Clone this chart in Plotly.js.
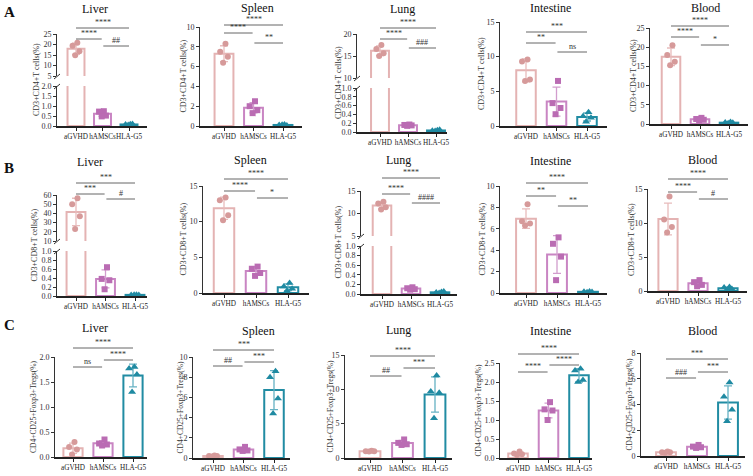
<!DOCTYPE html>
<html>
<head>
<meta charset="utf-8">
<script src="https://cdn.plot.ly/plotly-3.0.1.min.js"></script>
<style>
html, body { margin: 0; padding: 0; background: #fff; }
#chart { width: 753px; height: 476px; }
</style>
</head>
<body>
<div id="chart"></div>
<script>
var groups = ["aGVHD", "hAMSCs", "HLA-G5"];

// row A: CD3+CD4+ T cells (%), one list per group (aGVHD, hAMSCs, HLA-G5)
var liverCD4 = [[20.8, 19.4, 16.8, 14.9], [0.74, 0.72, 0.52, 0.48], [0.09, 0.07, 0.10, 0.05]];
var spleenCD4 = [[8.3, 7.5, 7.0, 6.4], [2.5, 2.0, 1.6, 1.3], [0.15, 0.10, 0.05, 0.12]];
var lungCD4 = [[17.5, 16.6, 15.6, 15.0], [0.17, 0.16, 0.15, 0.14], [0.04, 0.03, 0.05, 0.02]];
var intestineCD4 = [[9.6, 9.3, 6.7, 6.5], [6.5, 3.3, 2.6, 1.7], [2.0, 1.4, 1.2, 0.6]];
var bloodCD4 = [[20.5, 18.0, 16.2, 15.3], [1.6, 1.3, 1.1, 0.9], [0.5, 0.4, 0.3, 0.2]];

// row B: CD3+CD8+ T cells (%)
var liverCD8 = [[56.5, 50, 37, 23], [0.64, 0.38, 0.35, 0.15], [0.03, 0.02, 0.02, 0.03]];
var spleenCD8 = [[13.4, 13.0, 10.9, 10.2], [3.7, 3.4, 2.8, 2.4], [1.4, 0.9, 0.6, 0.3]];
var lungCD8 = [[12.6, 12.2, 11.4, 10.9], [0.14, 0.12, 0.10, 0.09], [0.04, 0.03, 0.05, 0.02]];
var intestineCD8 = [[8.3, 6.7, 6.5, 6.3], [5.2, 4.6, 3.4, 1.2], [0.15, 0.12, 0.10, 0.08]];
var bloodCD8 = [[13.9, 10.5, 9.4, 8.6], [1.6, 1.3, 0.9, 0.7], [0.6, 0.5, 0.3, 0.2]];

// row C: CD4+CD25+Foxp3+ Tregs (%)
var liverTreg = [[0.30, 0.20, 0.15, 0.05], [0.35, 0.27, 0.25, 0.23], [1.80, 1.77, 1.65, 1.30]];
var spleenTreg = [[0.25, 0.20, 0.20, 0.15], [1.10, 0.85, 0.75, 0.70], [8.6, 8.0, 5.9, 4.4]];
var lungTreg = [[1.05, 1.0, 1.0, 0.95], [2.7, 2.2, 2.0, 1.9], [12.0, 9.7, 9.5, 5.8]];
var intestineTreg = [[0.17, 0.12, 0.10, 0.08], [1.47, 1.28, 1.25, 1.00], [2.35, 2.30, 2.05, 2.00]];
var bloodTreg = [[0.35, 0.30, 0.30, 0.25], [0.86, 0.73, 0.68, 0.63], [5.7, 4.6, 3.6, 2.7]];

var titleA = "CD3+CD4+T cells(%)";
var titleB = "CD3+CD8+T cells(%)";
var titleC = "CD4+CD25+Foxp3+Tregs(%)";

// looks
var barLine = ["#e4b3b3", "#c985c3", "#218ca3"];
var errCol = ["#e8bcbc", "#d29dcd", "#66b2c4"];
var ptCol = ["#d69a9a", "#ba6cb3", "#1f8aa2"];
var syms = ["circle", "square", "triangle-up"];
var symSize = [6, 6, 7];
var jit = [0.05, -0.13, 0.13, -0.03];
var serif = "Liberation Serif, Times New Roman, serif";

var W = 753, H = 476;
function px(x) { return x / W; }
function py(y) { return 1 - y / H; }

function mean(a) { return a.reduce(function(s, v) { return s + v; }, 0) / a.length; }
function sd(a) {
    var m = mean(a);
    return Math.sqrt(a.reduce(function(s, v) { return s + (v - m) * (v - m); }, 0) / (a.length - 1));
}

// panel geometry in pixels; segs[0] is the bottom segment
var panels = [
    {name: "Liver", data: liverCD4, yt: titleA, ax: 57, end: 147, b0: 76, b2: 129, tx: 95, ty: 9, lx: 36,
     segs: [{lo: 0, hi: 2, dt: 0.5, f: ".1f", top: 86, bot: 126}, {lo: 5, hi: 25, dt: 5, top: 34, bot: 76}],
     sig: [["****", 28], ["****", 39], ["##", 46]]},
    {name: "Spleen", data: spleenCD4, yt: titleA, ax: 200, end: 302, b0: 224, b2: 283, tx: 257, ty: 8, lx: 183,
     segs: [{lo: 0, hi: 10, dt: 2, top: 27, bot: 126}],
     sig: [["****", 25], ["****", 33], ["**", 43]]},
    {name: "Lung", data: lungCD4, yt: titleA, ax: 357, end: 447, b0: 380, b2: 436, tx: 402, ty: 9, lx: 338,
     segs: [{lo: 0, hi: 1, dt: 0.2, f: ".1f", top: 88, bot: 132}, {lo: 10, hi: 20, dt: 5, top: 34, bot: 78}],
     sig: [["****", 28], ["****", 39], ["###", 48]]},
    {name: "Intestine", data: intestineCD4, yt: titleA, ax: 500, end: 607, b0: 526, b2: 587, tx: 550, ty: 8, lx: 481,
     segs: [{lo: 0, hi: 15, dt: 5, top: 22, bot: 126}],
     sig: [["***", 32], ["**", 43], ["ns", 52]]},
    {name: "Blood", data: bloodCD4, yt: titleA, ax: 650, end: 748, b0: 671, b2: 729, tx: 705, ty: 8, lx: 633,
     segs: [{lo: 0, hi: 25, dt: 5, top: 28, bot: 124}],
     sig: [["****", 26], ["****", 37], ["*", 45]]},

    {name: "Liver", data: liverCD8, yt: titleB, ax: 57, end: 147, b0: 76, b2: 135, tx: 90, ty: 162, lx: 34,
     segs: [{lo: 0, hi: 1, dt: 0.2, f: ".1f", top: 251, bot: 296}, {lo: 10, hi: 60, dt: 10, top: 195, bot: 241}],
     sig: [["***", 183], ["***", 194], ["#", 199]]},
    {name: "Spleen", data: spleenCD8, yt: titleB, ax: 203, end: 309, b0: 224, b2: 288, tx: 250, ty: 160, lx: 183,
     segs: [{lo: 0, hi: 15, dt: 5, top: 186, bot: 293}],
     sig: [["****", 179], ["****", 191], ["*", 198]]},
    {name: "Lung", data: lungCD8, yt: titleB, ax: 361, end: 457, b0: 382, b2: 440, tx: 398, ty: 160, lx: 338,
     segs: [{lo: 0, hi: 1, dt: 0.2, f: ".1f", top: 246, bot: 294}, {lo: 5, hi: 15, dt: 5, top: 191, bot: 236}],
     sig: [["****", 178], ["****", 194], ["####", 203]]},
    {name: "Intestine", data: intestineCD8, yt: titleB, ax: 500, end: 607, b0: 526, b2: 588, tx: 550, ty: 161, lx: 482,
     segs: [{lo: 0, hi: 10, dt: 2, top: 186, bot: 293}],
     sig: [["****", 183], ["**", 196], ["**", 206]]},
    {name: "Blood", data: bloodCD8, yt: titleB, ax: 648, end: 747, b0: 668, b2: 728, tx: 702, ty: 160, lx: 631,
     segs: [{lo: 0, hi: 15, dt: 5, top: 189, bot: 291}],
     sig: [["****", 179], ["****", 192], ["#", 199]]},

    {name: "Liver", data: liverTreg, yt: titleC, ax: 55, end: 147, b0: 73, b2: 133, tx: 95, ty: 328, lx: 33,
     segs: [{lo: 0, hi: 2, dt: 0.5, f: ".1f", top: 357, bot: 457}],
     sig: [["****", 348], ["ns", 367], ["****", 360]]},
    {name: "Spleen", data: spleenTreg, yt: titleC, ax: 193, end: 290, b0: 213, b2: 274, tx: 258, ty: 331, lx: 180,
     segs: [{lo: 0, hi: 10, dt: 2, top: 357, bot: 458}],
     sig: [["***", 350], ["##", 366], ["***", 362]]},
    {name: "Lung", data: lungTreg, yt: titleC, ax: 345, end: 452, b0: 370, b2: 435, tx: 398, ty: 330, lx: 330,
     segs: [{lo: 0, hi: 15, dt: 5, top: 355, bot: 458}],
     sig: [["****", 356], ["##", 376], ["***", 368]]},
    {name: "Intestine", data: intestineTreg, yt: titleC, ax: 500, end: 592, b0: 518, b2: 579, tx: 550, ty: 331, lx: 478,
     segs: [{lo: 0, hi: 2.5, dt: 0.5, f: ".1f", top: 363, bot: 458}],
     sig: [["****", 354], ["****", 372], ["****", 365]]},
    {name: "Blood", data: bloodTreg, yt: titleC, ax: 641, end: 745, b0: 666, b2: 728, tx: 702, ty: 331, lx: 629,
     segs: [{lo: 0, hi: 8, dt: 2, top: 353, bot: 456}],
     sig: [["***", 359], ["###", 378], ["***", 372]]}
];

var traces = [];
var shapes = [];
var annotations = [];
var layout = {
    width: W, height: H,
    margin: {l: 0, r: 0, t: 0, b: 0},
    paper_bgcolor: "#fff", plot_bgcolor: "rgba(0,0,0,0)",
    showlegend: false, barmode: "overlay",
    font: {family: serif, color: "#222"}
};

function label(x, y, text, size, color, extra) {
    var a = {xref: "paper", yref: "paper", x: px(x), y: py(y), xanchor: "center", yanchor: "middle",
        text: text, showarrow: false, font: {family: serif, size: size, color: color}};
    for (var k in extra) a[k] = extra[k];
    annotations.push(a);
}

var xn = 0, yn = 0;
panels.forEach(function(p) {
    xn++;
    var xid = xn === 1 ? "x" : "x" + xn;
    var xkey = xn === 1 ? "xaxis" : "xaxis" + xn;
    var s = (p.b2 - p.b0) / 2;
    var firstY = null;

    p.segs.forEach(function(seg, k) {
        yn++;
        var yid = yn === 1 ? "y" : "y" + yn;
        var ykey = yn === 1 ? "yaxis" : "yaxis" + yn;
        if (k === 0) firstY = yid;
        layout[ykey] = {
            domain: [py(seg.bot), py(seg.top)], range: [seg.lo, seg.hi], anchor: xid,
            tick0: seg.lo, dtick: seg.dt, tickformat: seg.f || "",
            showline: true, linecolor: "#333", linewidth: 1, ticks: "outside", ticklen: 3,
            tickwidth: 1, tickcolor: "#333", showgrid: false, zeroline: false,
            tickfont: {family: serif, size: 8, color: "#333"}, fixedrange: true
        };
        p.data.forEach(function(vals, g) {
            traces.push({
                type: "bar", x: [g], y: [mean(vals)], width: 0.64, xaxis: xid, yaxis: yid,
                marker: {color: "#fff", line: {color: barLine[g], width: 2}},
                error_y: {type: "data", array: [sd(vals)], visible: true, color: errCol[g], thickness: 1.3, width: 4},
                hoverinfo: "skip"
            });
            var inside = vals.every(function(v) { return v >= seg.lo && v <= seg.hi; });
            traces.push({
                type: "scatter", mode: "markers", xaxis: xid, yaxis: yid,
                x: vals.map(function(v, i) { return g + jit[i]; }), y: vals,
                marker: {symbol: syms[g], size: symSize[g], color: ptCol[g]},
                cliponaxis: !inside, hoverinfo: "skip"
            });
        });
    });

    layout[xkey] = {
        domain: [px(p.ax), px(p.end)], anchor: firstY,
        range: [(p.ax - p.b0) / s, 2 + (p.end - p.b2) / s],
        tickvals: [0, 1, 2], ticktext: groups, tickangle: 0,
        showline: true, linecolor: "#222", linewidth: 1.6, ticks: "outside", ticklen: 3,
        tickcolor: "#222", showgrid: false, zeroline: false,
        tickfont: {family: serif, size: 7.2, color: "#222"}, fixedrange: true
    };

    // break marks for split axes
    if (p.segs.length > 1) {
        var lowTop = p.segs[0].top, upBot = p.segs[1].bot;
        [upBot + 1, lowTop + 1].forEach(function(yy) {
            shapes.push({type: "line", xref: "paper", yref: "paper",
                x0: px(p.ax - 3), y0: py(yy + 2), x1: px(p.ax + 3), y1: py(yy - 3),
                line: {color: "#333", width: 1}});
        });
    }

    // significance brackets: top (0-2), left (0-1), right (1-2)
    var spans = [[0, 2], [0, 0.97], [1.03, 2]];
    p.sig.forEach(function(sg, j) {
        shapes.push({type: "line", xref: xid, yref: "paper",
            x0: spans[j][0], x1: spans[j][1], y0: py(sg[1]), y1: py(sg[1]),
            line: {color: "#666", width: 1}});
        annotations.push({xref: xid, yref: "paper", x: (spans[j][0] + spans[j][1]) / 2, y: py(sg[1] + 1),
            xanchor: "center", yanchor: "bottom", text: sg[0], showarrow: false,
            font: {family: serif, size: 8, color: "#333"}});
    });

    var top = p.segs[p.segs.length - 1].top, bot = p.segs[0].bot;
    label(p.lx, (top + bot) / 2, p.yt, p.yt === titleC ? 7.5 : 8, "#333", {textangle: -90});
    label(p.tx, p.ty, p.name, 12, "#111");
});

[["A", 12], ["B", 168], ["C", 325]].forEach(function(l) {
    label(9, l[1], "<b>" + l[0] + "</b>", 15, "#111");
});

layout.shapes = shapes;
layout.annotations = annotations;

Plotly.newPlot("chart", traces, layout, {staticPlot: true, displayModeBar: false});
</script>
</body>
</html>
